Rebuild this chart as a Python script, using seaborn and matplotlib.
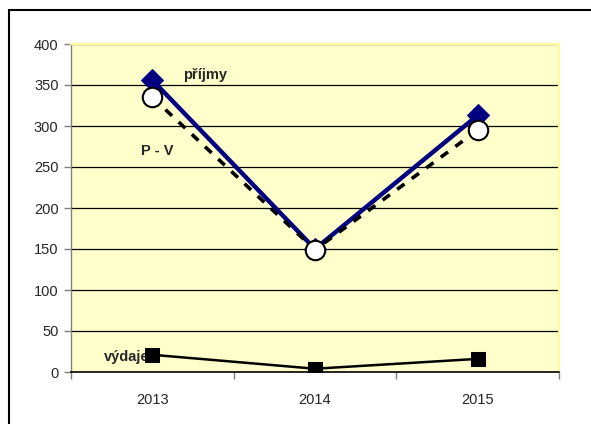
import matplotlib
matplotlib.use("Agg")
import matplotlib.pyplot as plt
import seaborn as sns
import pandas as pd
from matplotlib.patches import Rectangle
from matplotlib.ticker import FixedLocator

years = ["2013", "2014", "2015"]
prijmy = [356, 150, 313]
pv = [335, 149, 295]
vydaje = [21, 4, 16]
yticks = [0, 50, 100, 150, 200, 250, 300, 350, 400]

sns.set_style("white")
plt.rcParams["font.family"] = ["Liberation Sans", "DejaVu Sans"]
FS = 10.5

fig = plt.figure(figsize=(5.91, 4.24), dpi=100)
ax = fig.add_axes([71/591, 1-372/424, (559-71)/591, (372-44)/424])
ax.set_facecolor("#FFFFCC")

x = list(range(len(years)))
df = pd.DataFrame({"x": x, "prijmy": prijmy, "pv": pv, "vydaje": vydaje})

for yv in yticks[1:]:
    ax.axhline(yv, color="black", lw=0.9, zorder=1)

sns.lineplot(data=df, x="x", y="prijmy", ax=ax, color="#000080", lw=3.2,
             marker="D", markersize=11, markeredgecolor="#000080", zorder=4)
sns.lineplot(data=df, x="x", y="pv", ax=ax, color="black", lw=2.6,
             linestyle=(0, (2.5, 2.5)), marker="o", markersize=14,
             markerfacecolor="white", markeredgecolor="black",
             markeredgewidth=1.5, zorder=5)
sns.lineplot(data=df, x="x", y="vydaje", ax=ax, color="black", lw=1.8,
             marker="s", markersize=10, markeredgecolor="black", zorder=5)

ax.text(0.325, 362, "příjmy", fontsize=FS, fontweight="bold", ha="center", va="center", zorder=6)
ax.text(0.03, 269, "P - V", fontsize=FS, fontweight="bold", ha="center", va="center", zorder=6)
ax.text(-0.16, 18, "výdaje", fontsize=FS, fontweight="bold", ha="center", va="center", zorder=3)

ax.set_xlim(-0.5, 2.5)
ax.set_ylim(0, 400)
ax.set_yticks(yticks)
ax.set_yticklabels([str(v) for v in yticks], fontsize=FS)
ax.set_xticks(x)
ax.set_xticklabels(years, fontsize=FS)
ax.xaxis.set_minor_locator(FixedLocator([-0.5, 0.5, 1.5, 2.5]))
ax.tick_params(axis="x", which="major", length=0, pad=15)
ax.tick_params(axis="x", which="minor", length=5, width=1, color="#808080", direction="out", bottom=True)
ax.tick_params(axis="y", length=5, width=1, color="#808080", direction="out", left=True, pad=4)
ax.set_xlabel("")
ax.set_ylabel("")

for s in ["top", "right"]:
    ax.spines[s].set_visible(True)
    ax.spines[s].set_color("#FFFF99")
    ax.spines[s].set_linewidth(1.5)
ax.spines["left"].set_color("#808080")
ax.spines["left"].set_linewidth(1)
ax.spines["bottom"].set_color("black")
ax.spines["bottom"].set_linewidth(1.2)

fig.patches.append(Rectangle((9/591, -0.1), 1.2, 1 - 10/424 + 0.1,
                             transform=fig.transFigure, fill=False,
                             edgecolor="black", lw=1.5))

fig.savefig("out.png", dpi=100)
